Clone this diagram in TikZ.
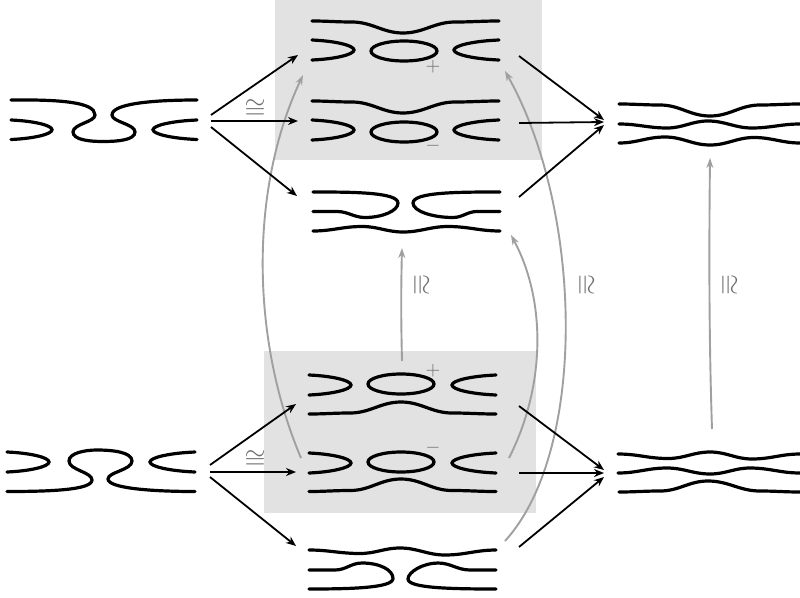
\documentclass[tikz,border=0pt]{standalone}
\usetikzlibrary{arrows.meta}
\definecolor{panel}{HTML}{E2E2E2}
\definecolor{iso}{HTML}{A0A0A0}
\definecolor{lab}{HTML}{6E6E6E}
\tikzset{
  strand/.style={line width=3.2pt,black,line cap=round},
  mapto/.style={line width=1.8pt,black,-{Stealth[length=10pt,width=8pt]}},
  isomap/.style={line width=1.9pt,iso,-{Stealth[length=10pt,width=7pt]}},
  panelbox/.style={fill=panel,draw=none},
  lbl/.style={text=lab,inner sep=0pt,scale=2.7},
  sgn/.style={text=lab,inner sep=0pt,scale=1.9},
  w/.style={out=0,in=180}
}
% cup opening right: from (#1,#2) round a tip at x=#3 to (#1,#4)
\newcommand{\cupcurve}[4]{\draw[strand] (#1,#2) .. controls ({#1+0.55*(#3-#1)},{#2+0.05*(#4-#2)}) and (#3,{#2+0.27*(#4-#2)}) .. (#3,{0.5*#2+0.5*#4}) .. controls (#3,{#2+0.73*(#4-#2)}) and ({#1+0.55*(#3-#1)},{#2+0.95*(#4-#2)}) .. (#1,#4);}
\begin{document}
\begin{tikzpicture}[x=1pt,y=-1pt]
\useasboundingbox (0,0) rectangle (800,597);
\fill[panelbox] (275,0) rectangle (542,160);
\fill[panelbox] (264,351) rectangle (536,513);

% top left tangle
\draw[strand] (11,100) .. controls (60,99.5) and (95,102) .. (95,115) .. controls (95,122) and (73,124) .. (73,132) .. controls (73,140) and (90,141.5) .. (103,141.5) .. controls (118,141.5) and (135,140) .. (135,132) .. controls (135,124) and (112,122) .. (112,115) .. controls (112,104) and (150,100) .. (197,100);
\cupcurve{11}{120}{52}{139.5}
\cupcurve{197}{120}{153}{139.5}

% top middle 1
\draw[strand] (312,21) to[w] (352,22) to[w] (403,33) to[w] (455,22) to[w] (499,21);
\cupcurve{312}{40}{354}{60}
\draw[strand] (404,51) ellipse [x radius=33,y radius=10];
\cupcurve{499}{40}{454}{60}
\node[sgn] (plusA) at (433,67) {$+$};

% top middle 2
\draw[strand] (312,101) to[w] (352,102) to[w] (403,113) to[w] (455,102) to[w] (499,101);
\cupcurve{312}{120}{354}{140}
\draw[strand] (404,132) ellipse [x radius=33,y radius=10];
\cupcurve{499}{120}{454}{140}
\node[sgn] (minusA) at (433,146) {$-$};

% top middle 3
\draw[strand] (313,192) .. controls (350,192) and (398,192) .. (398,203) .. controls (398,211) and (382,217.5) .. (365,217.5) to[out=180,in=0] (337,211.5) -- (313,211.5);
\draw[strand] (500,192) .. controls (460,192) and (413,192) .. (413,203) .. controls (413,211) and (432,217.5) .. (453,217.5) to[out=0,in=180] (477,211.5) -- (500,211.5);
\draw[strand] (313,231) to[w] (362,226.5) to[w] (403,232) to[w] (448,226.5) to[w] (500,231);

% top right
\draw[strand] (619,104) to[w] (660,105) to[w] (710,116) to[w] (760,105) to[w] (800,104);
\draw[strand] (619,124) to[w] (667,128) to[w] (708,121) to[w] (752,128) to[w] (800,124);
\draw[strand] (619,143) to[w] (665,137) to[w] (710,145) to[w] (754,137.5) to[w] (800,143);

% bottom left tangle
\cupcurve{7}{452}{49}{472}
\draw[strand] (7,491.5) .. controls (50,491.5) and (92,490) .. (92,480) .. controls (92,472) and (69,470) .. (69,461) .. controls (69,453) and (85,450) .. (97,450) .. controls (112,450) and (132,452) .. (132,461) .. controls (132,470) and (108,472) .. (108,479) .. controls (108,488) and (150,491.5) .. (195,491.5);
\cupcurve{195}{452}{150}{472}

% bottom middle 1
\cupcurve{309}{375}{351}{395}
\draw[strand] (401,384) ellipse [x radius=33,y radius=10];
\cupcurve{496}{375}{452}{395}
\draw[strand] (309,414) to[w] (350,413) to[w] (401,402) to[w] (452,413) to[w] (496,414);
\node[sgn] (plusB) at (433,371) {$+$};

% bottom middle 2
\cupcurve{309}{453}{351}{473}
\draw[strand] (401,462) ellipse [x radius=33,y radius=10];
\cupcurve{496}{453}{452}{473}
\draw[strand] (309,491.5) to[w] (350,490.5) to[w] (401,479) to[w] (452,490.5) to[w] (496,491.5);
\node[sgn] (minusB) at (433,448) {$-$};

% bottom middle 3
\draw[strand] (309,550) to[w] (360,553.5) to[w] (400,548) to[w] (445,555) to[w] (496,550);
\draw[strand] (309,570) -- (335,570) to[w] (362,563) .. controls (380,563) and (393,570) .. (393,578.5) .. controls (393,588) and (350,589) .. (309,589);
\draw[strand] (496,570) -- (470,570) to[out=180,in=0] (438,563) .. controls (423,563) and (408,572) .. (408,579) .. controls (408,588) and (450,589) .. (496,589);

% bottom right
\draw[strand] (618,454) to[w] (668,458.5) to[w] (710,452) to[w] (752,459) to[w] (800,454);
\draw[strand] (618,473) to[w] (667,468) to[w] (710,474) to[w] (750,468) to[w] (800,473);
\draw[strand] (619,492) to[w] (660,491) to[w] (708,481) to[w] (760,491) to[w] (800,492);

% connector ends
\coordinate (a1) at (211,115); \coordinate (a2) at (298,55);
\coordinate (b1) at (211,121); \coordinate (b2) at (298,121);
\coordinate (c1) at (211,127); \coordinate (c2) at (297,196);
\coordinate (d1) at (210,465); \coordinate (d2) at (296,404);
\coordinate (e1) at (210,472); \coordinate (e2) at (296,472);
\coordinate (f1) at (210,477); \coordinate (f2) at (296,546);
\coordinate (g1) at (519,56);  \coordinate (g2) at (604,120);
\coordinate (h1) at (519,123); \coordinate (h2) at (604,122);
\coordinate (i1) at (519,197); \coordinate (i2) at (604,125);
\coordinate (j1) at (519,406); \coordinate (j2) at (604,470);
\coordinate (k1) at (519,473); \coordinate (k2) at (604,473);
\coordinate (l1) at (519,547); \coordinate (l2) at (604,477);
\coordinate (p1) at (301,458); \coordinate (p2) at (303,75);
\coordinate (q1) at (505,541); \coordinate (q2) at (505,71);
\coordinate (r1) at (509,458); \coordinate (r2) at (511,235);
\coordinate (s1) at (402,361); \coordinate (s2) at (402,248);
\coordinate (t1) at (712,429); \coordinate (t2) at (710,158);

% grey maps
\draw[isomap] (p1) .. controls (251,340) and (249,190) .. (p2);
\draw[isomap] (q1) .. controls (588,450) and (583,210) .. (q2);
\draw[isomap] (r1) .. controls (546,385) and (546,300) .. (r2);
\draw[isomap] (s1) .. controls (401,320) and (401,290) .. (s2);
\draw[isomap] (t1) .. controls (709,340) and (709,250) .. (t2);

% black maps
\foreach \u/\v in {a1/a2,b1/b2,c1/c2,d1/d2,e1/e2,f1/f2,g1/g2,h1/h2,i1/i2,j1/j2,k1/k2,l1/l2}
  \draw[mapto] (\u) -- (\v);

% labels
\node[lbl] (isoA) at (255,109) {$\cong$};
\node[lbl] (isoB) at (255,459.5) {$\cong$};
\node[lbl,rotate=-90] (isoC) at (420,285) {$\cong$};
\node[lbl,rotate=-90] (isoD) at (585,285) {$\cong$};
\node[lbl,rotate=-90] (isoE) at (728,285) {$\cong$};
\end{tikzpicture}
\end{document}
